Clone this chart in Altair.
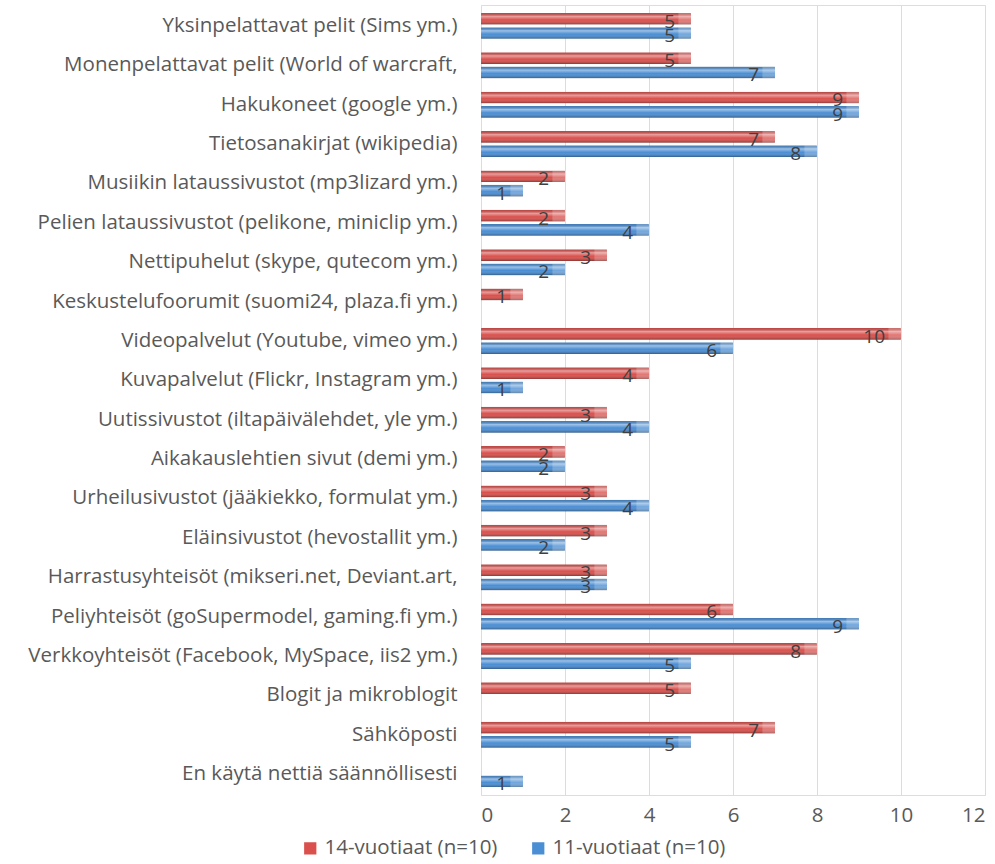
import altair as alt
import pandas as pd

categories = [
    "Yksinpelattavat pelit (Sims ym.)",
    "Monenpelattavat pelit (World of warcraft,",
    "Hakukoneet (google ym.)",
    "Tietosanakirjat (wikipedia)",
    "Musiikin lataussivustot (mp3lizard ym.)",
    "Pelien lataussivustot (pelikone, miniclip ym.)",
    "Nettipuhelut (skype, qutecom ym.)",
    "Keskustelufoorumit (suomi24, plaza.fi ym.)",
    "Videopalvelut (Youtube, vimeo ym.)",
    "Kuvapalvelut (Flickr, Instagram ym.)",
    "Uutissivustot (iltapäivälehdet, yle ym.)",
    "Aikakauslehtien sivut (demi ym.)",
    "Urheilusivustot (jääkiekko, formulat ym.)",
    "Eläinsivustot (hevostallit ym.)",
    "Harrastusyhteisöt (mikseri.net, Deviant.art,",
    "Peliyhteisöt (goSupermodel, gaming.fi ym.)",
    "Verkkoyhteisöt (Facebook, MySpace, iis2 ym.)",
    "Blogit ja mikroblogit",
    "Sähköposti",
    "En käytä nettiä säännöllisesti",
]
series = ["14-vuotiaat (n=10)", "11-vuotiaat (n=10)"]
values_14 = [5, 5, 9, 7, 2, 2, 3, 1, 10, 4, 3, 2, 3, 3, 3, 6, 8, 5, 7, None]
values_11 = [5, 7, 9, 8, 1, 4, 2, None, 6, 1, 4, 2, 4, 2, 3, 9, 5, None, 5, 1]
colors = ["#d9504c", "#4a8ed4"]
x_ticks = [0, 2, 4, 6, 8, 10, 12]

rows = []
for c, a, b in zip(categories, values_14, values_11):
    if a is not None:
        rows.append({"cat": c, "series": series[0], "value": a})
    if b is not None:
        rows.append({"cat": c, "series": series[1], "value": b})
df = pd.DataFrame(rows)

FONT = "Open Sans"
FS = 20.5

y_enc = alt.Y("cat:N", sort=categories, title=None,
              scale=alt.Scale(paddingInner=0.34, paddingOuter=0.2),
              axis=alt.Axis(labelFont=FONT, labelFontSize=FS, labelColor="#595959",
                            ticks=False, domain=False, labelPadding=24, labelLimit=700))
yoff = alt.YOffset("series:N", sort=series,
                   scale=alt.Scale(domain=series, paddingInner=0.18))
x_enc = alt.X("value:Q", title=None,
              scale=alt.Scale(domain=[0, 12]),
              axis=alt.Axis(values=x_ticks, labelFont=FONT, labelFontSize=FS,
                            labelColor="#595959", ticks=False, domain=False,
                            grid=True, gridColor="#dcdcdc", labelPadding=10))

base = alt.Chart(df)

bars = base.mark_bar(cornerRadius=1).encode(
    x=x_enc, y=y_enc, yOffset=yoff,
    color=alt.Color("series:N", sort=series,
                    scale=alt.Scale(domain=series, range=colors),
                    legend=alt.Legend(title=None, orient="none", direction="horizontal",
                                      legendX=-181, legendY=833,
                                      symbolType="square", symbolSize=150,
                                      labelFont=FONT, labelFontSize=FS, labelLimit=400,
                                      labelColor="#595959", columnPadding=30,
                                      symbolStrokeWidth=0)),
)

shine = base.mark_bar(
    fill=alt.Gradient(
        gradient="linear", x1=0, y1=0, x2=0, y2=1,
        stops=[
            alt.GradientStop(offset=0, color="rgba(0,0,0,0.10)"),
            alt.GradientStop(offset=0.3, color="rgba(255,255,255,0.45)"),
            alt.GradientStop(offset=0.6, color="rgba(255,255,255,0.0)"),
            alt.GradientStop(offset=1, color="rgba(0,0,0,0.35)"),
        ],
    )
).encode(x="value:Q", y=alt.Y("cat:N", sort=categories), yOffset=yoff)

cap = base.transform_calculate(start="datum.value - 0.3").mark_bar(
    color="white", opacity=0.22
).encode(x="start:Q", x2="value:Q", y=alt.Y("cat:N", sort=categories), yOffset=yoff)

labels = base.mark_text(align="right", baseline="middle", dx=-16, dy=3,
                        font=FONT, fontSize=19, color="#404040").encode(
    x="value:Q", y=alt.Y("cat:N", sort=categories), yOffset=yoff,
    text=alt.Text("value:Q", format="d"),
)

chart = alt.layer(bars, shine, cap, labels).properties(
    width=504, height=790,
    autosize=alt.AutoSizeParams(type="none"),
    padding={"left": 481, "top": 5, "right": 10, "bottom": 69},
).configure_view(stroke=None).configure(background="white")

chart.save("out.html", embed_options={"renderer": "svg", "actions": False})
